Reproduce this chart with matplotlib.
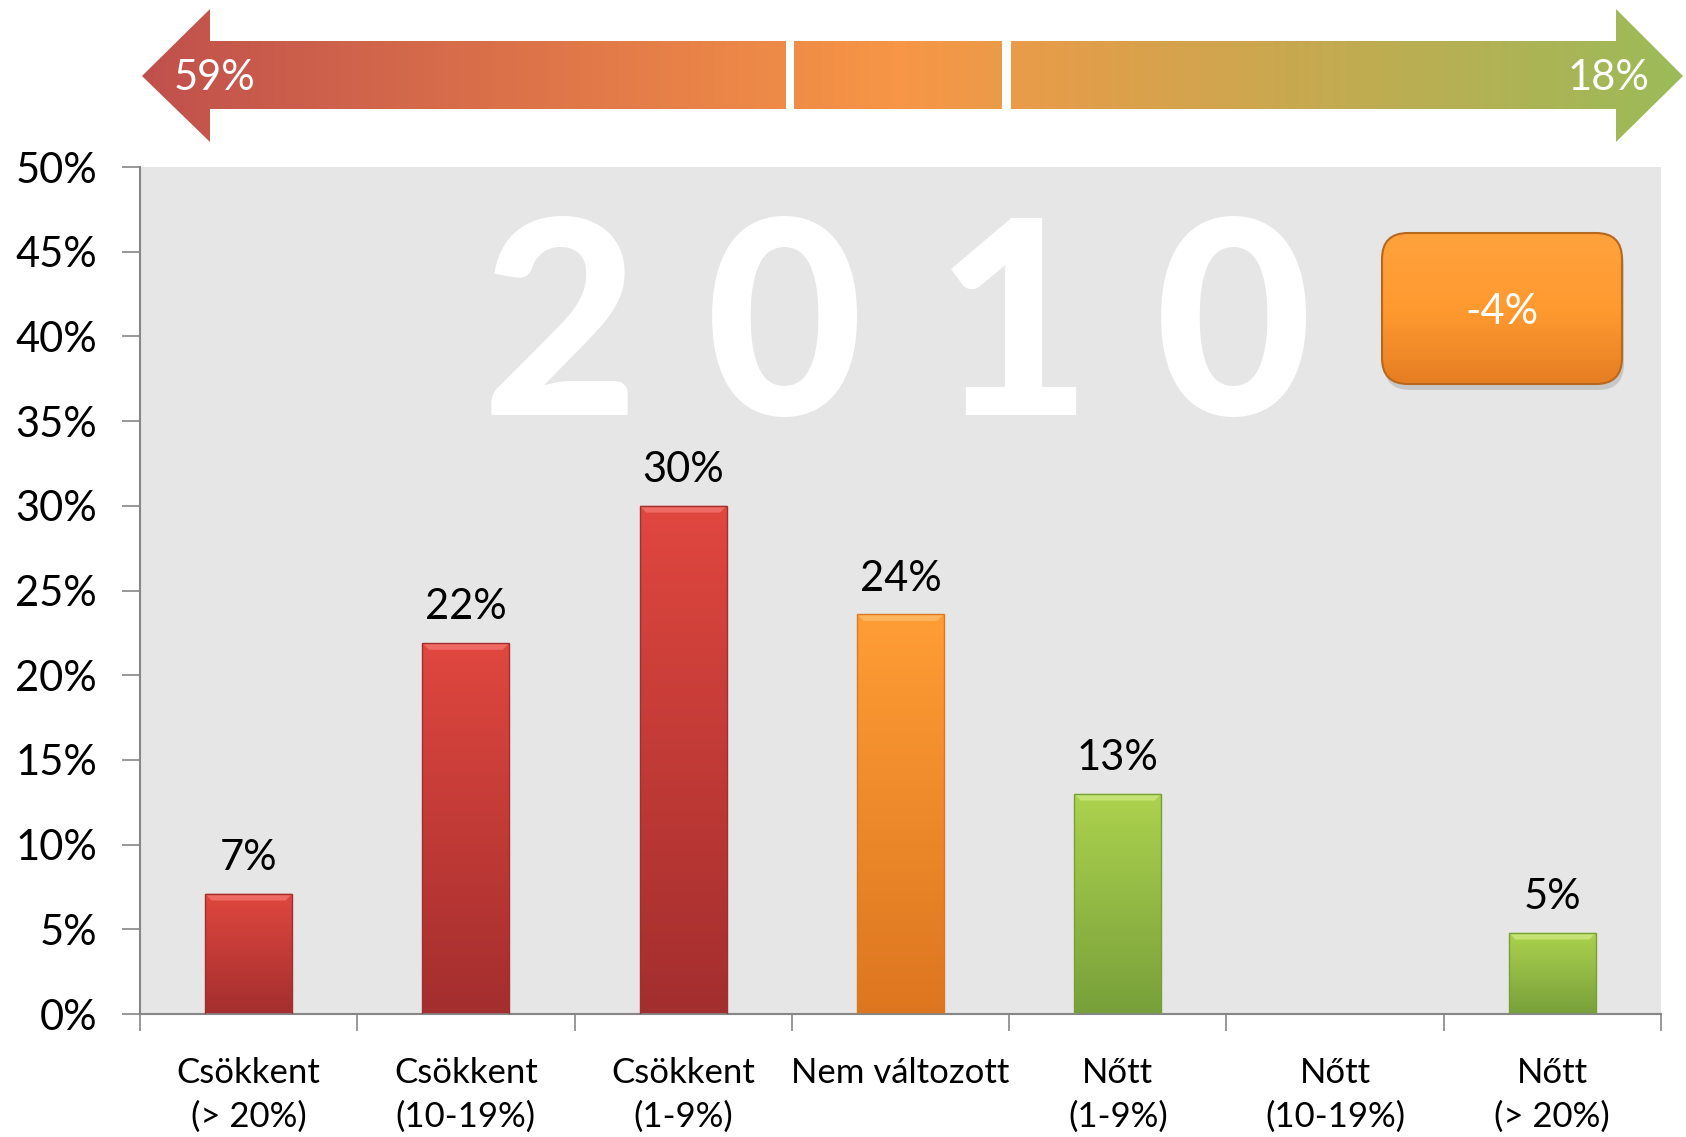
import numpy as np
import matplotlib
matplotlib.use('Agg')
import matplotlib.pyplot as plt
from matplotlib.patches import Polygon, FancyBboxPatch, Rectangle
from matplotlib.colors import LinearSegmentedColormap

plt.rcParams['font.family'] = ['Lato', 'DejaVu Sans']

# data
categories = ['Csökkent\n(> 20%)', 'Csökkent\n(10-19%)', 'Csökkent\n(1-9%)',
              'Nem változott', 'Nőtt\n(1-9%)', 'Nőtt\n(10-19%)', 'Nőtt\n(> 20%)']
values = [7.1, 21.9, 30.0, 23.6, 13.0, 0.0, 4.8]
value_labels = ['7%', '22%', '30%', '24%', '13%', '', '5%']
groups = ['red', 'red', 'red', 'orange', 'green', 'green', 'green']
decreased_total = '59%'
increased_total = '18%'
net_change = '-4%'
year = '2010'
y_ticks = [0, 5, 10, 15, 20, 25, 30, 35, 40, 45, 50]

# gradient colours (top, bottom) for bars
bar_colors = {
    'red': ('#E0473F', '#A32E2E'),
    'orange': ('#FF9D35', '#DD7620'),
    'green': ('#ADD24E', '#77A03A'),
}
bevel_colors = {'red': '#EE6A63', 'orange': '#FFB45E', 'green': '#C5E374'}

W, H = 1686, 1137
fig = plt.figure(figsize=(W / 100, H / 100), dpi=100)

ax = fig.add_axes([140 / W, 1 - 1014 / H, 1521 / W, 847 / H])
ax.set_facecolor('#E6E6E6')

x = np.arange(len(categories))
bw = 0.4
bars = ax.bar(x, values, width=bw, color='none', zorder=2)
grad = np.linspace(0, 1, 256).reshape(-1, 1)
for b, g, v in zip(bars, groups, values):
    if v <= 0:
        continue
    cmap = LinearSegmentedColormap.from_list(g, [bar_colors[g][1], bar_colors[g][0]])
    x0 = b.get_x()
    x1 = x0 + b.get_width()
    im = ax.imshow(grad, extent=[x0, x1, 0, v], origin='lower', aspect='auto',
                   cmap=cmap, zorder=2)
    im.set_clip_path(b)
    # small bevel on the top edge
    d, e = 0.03, 0.4
    ax.add_patch(Polygon([(x0, v), (x1, v), (x1 - d, v - e), (x0 + d, v - e)],
                         closed=True, color=bevel_colors[g], lw=0, zorder=3))
    ax.add_patch(Rectangle((x0, 0), x1 - x0, v, fill=False,
                           ec=bar_colors[g][1], lw=1, zorder=3))

for xi, v, lab in zip(x, values, value_labels):
    if lab:
        ax.annotate(lab, (xi, v), xytext=(0, 12), textcoords='offset points',
                    ha='center', va='bottom', fontsize=30, color='black', zorder=4)

ax.set_xlim(-0.5, len(categories) - 0.5)
ax.set_ylim(0, 50)
ax.set_yticks(y_ticks)
ax.set_yticklabels([f'{t}%' for t in y_ticks], fontsize=30)
ax.tick_params(axis='y', length=13, width=1.2, color='#868686', pad=18)

ax.set_xticks(x)
ax.set_xticklabels(categories, fontsize=25, linespacing=1.45)
ax.tick_params(axis='x', which='major', length=0, pad=31)
ax.set_xticks(np.arange(len(categories) + 1) - 0.5, minor=True)
ax.tick_params(axis='x', which='minor', length=12, width=1.2, color='#868686')

for s in ['top', 'right']:
    ax.spines[s].set_visible(False)
for s in ['left', 'bottom']:
    ax.spines[s].set_color('#868686')
    ax.spines[s].set_linewidth(1.5)

# large year watermark
for ch, xf in zip(year, [0.276, 0.424, 0.574, 0.719]):
    ax.text(xf, 0.80, ch, transform=ax.transAxes, ha='center', va='center',
            fontsize=195, fontweight='black', color='white', zorder=1)

# overlay in pixel coordinates for the arrow and the badge
ov = fig.add_axes([0, 0, 1, 1])
ov.set_xlim(0, W)
ov.set_ylim(H, 0)
ov.axis('off')
ov.set_zorder(5)
ov.patch.set_alpha(0)

arrow_cmap = LinearSegmentedColormap.from_list(
    'arrow', [(0, '#C0504D'), (0.49, '#F79646'), (1, '#9BBB59')])
arrow = Polygon([(142, 76), (210, 9), (210, 41), (1616, 41), (1616, 9), (1683, 76),
                 (1616, 142), (1616, 109), (210, 109), (210, 142)],
                closed=True, fc='none', ec='none')
ov.add_patch(arrow)
im = ov.imshow(np.linspace(0, 1, 512).reshape(1, -1), extent=[142, 1683, 142, 9],
               aspect='auto', cmap=arrow_cmap, zorder=1)
im.set_clip_path(arrow)
for gx0, gx1 in [(786, 794), (1002, 1011)]:
    ov.add_patch(Rectangle((gx0, 30), gx1 - gx0, 90, color='white', lw=0, zorder=2))
ov.text(215, 78, decreased_total, ha='center', va='center', fontsize=30,
        color='white', zorder=3)
ov.text(1608, 78, increased_total, ha='center', va='center', fontsize=30,
        color='white', zorder=3)

# net change badge
shadow = FancyBboxPatch((1384, 239), 240, 151, boxstyle='round,pad=0,rounding_size=26',
                        fc='#9A9A9A', ec='none', alpha=0.4, zorder=1)
ov.add_patch(shadow)
badge = FancyBboxPatch((1382, 233), 240, 151, boxstyle='round,pad=0,rounding_size=26',
                       fc='none', ec='#B8681E', lw=1.5, zorder=3)
ov.add_patch(badge)
badge_cmap = LinearSegmentedColormap.from_list('badge', ['#E67E22', '#FF9A30', '#FFA23C'])
im2 = ov.imshow(np.linspace(0, 1, 256).reshape(-1, 1), extent=[1382, 1622, 384, 233],
                aspect='auto', cmap=badge_cmap, origin='lower', zorder=2)
im2.set_clip_path(badge)
ov.text(1502, 312, net_change, ha='center', va='center', fontsize=30,
        color='white', zorder=4)
ov.set_xlim(0, W)
ov.set_ylim(H, 0)

fig.savefig('out.png', dpi=100)
